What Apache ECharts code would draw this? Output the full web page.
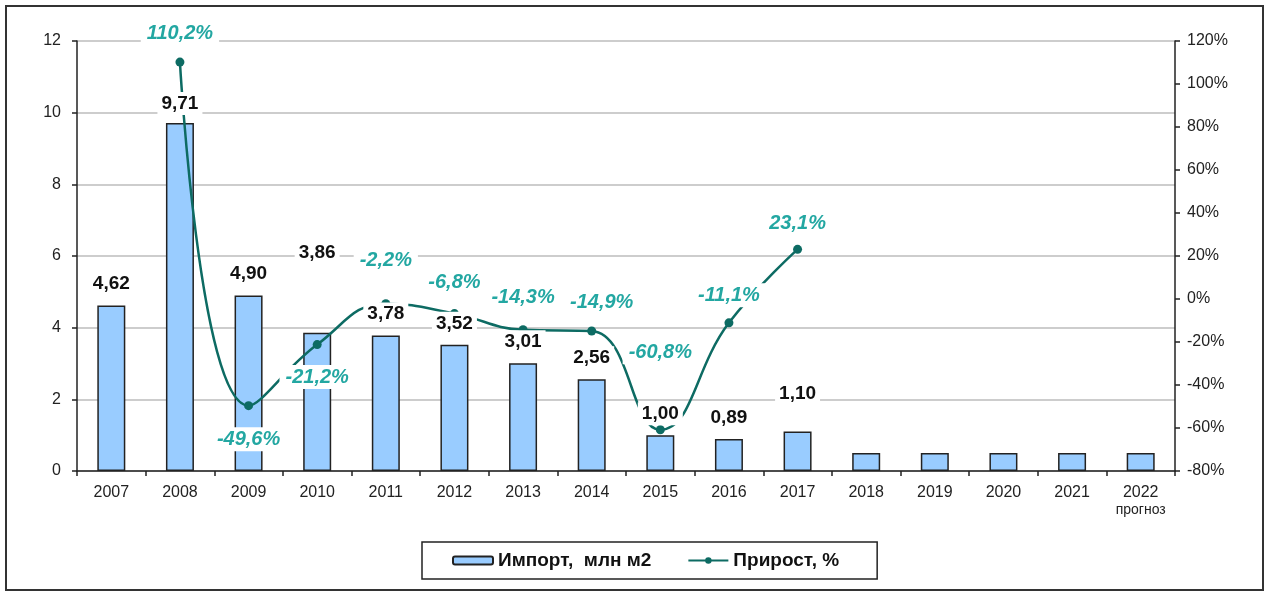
<!DOCTYPE html>
<html>
<head>
<meta charset="utf-8">
<script src="https://cdn.jsdelivr.net/npm/echarts@6/dist/echarts.min.js"></script>
<style>
  html, body { margin: 0; padding: 0; background: #fff; }
  #chart { width: 1269px; height: 596px; }
</style>
</head>
<body>
<div id="chart"></div>
<script>
// chart data
const years = ['2007', '2008', '2009', '2010', '2011', '2012', '2013', '2014', '2015', '2016', '2017', '2018', '2019', '2020', '2021', '2022']
const importVals = [4.62, 9.71, 4.90, 3.86, 3.78, 3.52, 3.01, 2.56, 1.00, 0.89, 1.10, 0.50, 0.50, 0.50, 0.50, 0.50]
const growthVals = [null, 110.2, -49.6, -21.2, -2.2, -6.8, -14.3, -14.9, -60.8, -11.1, 23.1, null, null, null, null, null]
const leftTicks = [0, 2, 4, 6, 8, 10, 12]
const rightTicks = [-80, -60, -40, -20, 0, 20, 40, 60, 80, 100, 120]

const lineColor = '#0d6b63'
const lineLabelColor = '#23a7a2'
const fontFam = '"Liberation Sans", Arial, sans-serif'
const fmt = (v, d) => v.toFixed(d).replace('.', ',')

// per-point label placement, tuned by eye
const barLabelDist = { 1: 8, 3: 68, 10: 26 }
const lineLabelPos = {
    1: ['top', 12], 2: ['bottom', 17], 3: ['bottom', 16], 4: ['top', 27],
    5: ['top', 15], 6: ['top', 16], 7: ['top', 12], 8: ['top', 61],
    9: ['top', 11], 10: ['top', 9]
}

const labelData = importVals.map((v, i) => {
    if (i > 10) return { value: v, label: { show: false } }
    return { value: v, label: { distance: barLabelDist[i] || 10 } }
})
const lineData = growthVals.map((v, i) => {
    if (v === null) return null
    const p = lineLabelPos[i] || ['top', 12]
    return { value: v, label: { position: p[0], distance: p[1], offset: i === 7 ? [10, 0] : [0, 0] } }
})

const chart = echarts.init(document.getElementById('chart'))
chart.setOption({
    animation: false,
    textStyle: { fontFamily: fontFam },
    graphic: [{
        type: 'rect',
        shape: { x: 6, y: 6, width: 1257, height: 584 },
        style: { fill: 'none', stroke: '#333', lineWidth: 2 },
        silent: true
    }],
    grid: { left: 77, right: 94, top: 41, bottom: 125 },
    legend: {
        left: 422, top: 542,
        padding: [9, 38, 9, 30],
        borderColor: '#222', borderWidth: 1.5,
        itemWidth: 40, itemHeight: 8, itemGap: 36,
        textStyle: { fontFamily: fontFam, fontWeight: 'bold', fontSize: 19, color: '#111' },
        data: ['Импорт,  млн м2', 'Прирост, %']
    },
    xAxis: {
        type: 'category',
        data: years,
        axisLine: { lineStyle: { color: '#222', width: 1.5 } },
        axisTick: { show: true, length: 5, lineStyle: { color: '#222', width: 1.5 } },
        axisLabel: {
            interval: 0, color: '#222', margin: 12,
            formatter: v => v === '2022' ? '{a|2022}\n{b|прогноз}' : '{a|' + v + '}',
            rich: {
                a: { fontSize: 16, color: '#222', lineHeight: 19 },
                b: { fontSize: 14, color: '#222', lineHeight: 16 }
            }
        }
    },
    yAxis: [{
        type: 'value', min: leftTicks[0], max: leftTicks[leftTicks.length - 1], interval: 2,
        axisLine: { show: true, lineStyle: { color: '#222', width: 1.5 } },
        axisTick: { show: true, length: 5, lineStyle: { color: '#222', width: 1.5 } },
        axisLabel: { color: '#222', fontSize: 16, margin: 16 },
        splitLine: { lineStyle: { color: '#bdbdbd', width: 1.5 } }
    }, {
        type: 'value', min: rightTicks[0], max: rightTicks[rightTicks.length - 1], interval: 20,
        axisLine: { show: true, lineStyle: { color: '#222', width: 1.5 } },
        axisTick: { show: true, length: 5, lineStyle: { color: '#222', width: 1.5 } },
        axisLabel: { color: '#222', fontSize: 16, margin: 12, formatter: '{value}%' },
        splitLine: { show: false }
    }],
    series: [{
        name: 'Импорт,  млн м2',
        type: 'bar',
        data: importVals,
        barWidth: 28,
        barGap: '-100%',
        itemStyle: { color: '#99ccff', borderColor: '#222', borderWidth: 1.5 },
        z: 2
    }, {
        name: 'Прирост, %',
        type: 'line',
        yAxisIndex: 1,
        data: lineData,
        smooth: 0.45,
        symbol: 'circle', symbolSize: 9,
        lineStyle: { color: lineColor, width: 2.5 },
        itemStyle: { color: lineColor },
        label: {
            show: true,
            formatter: p => fmt(p.value, 1) + '%',
            fontSize: 20, fontWeight: 'bold', fontStyle: 'italic', color: lineLabelColor,
            backgroundColor: '#fff', padding: [2, 6]
        },
        z: 3
    }, {
        // transparent copy of the bars that carries the value labels above the line
        name: 'labels',
        type: 'bar',
        data: labelData,
        barWidth: 28,
        barGap: '-100%',
        itemStyle: { color: 'rgba(0,0,0,0)' },
        label: {
            show: true, position: 'top',
            formatter: p => fmt(p.value, 2),
            fontSize: 19, fontWeight: 'bold', color: '#111',
            backgroundColor: '#fff', padding: [2, 4]
        },
        silent: true,
        z: 4
    }]
})
</script>
</body>
</html>
